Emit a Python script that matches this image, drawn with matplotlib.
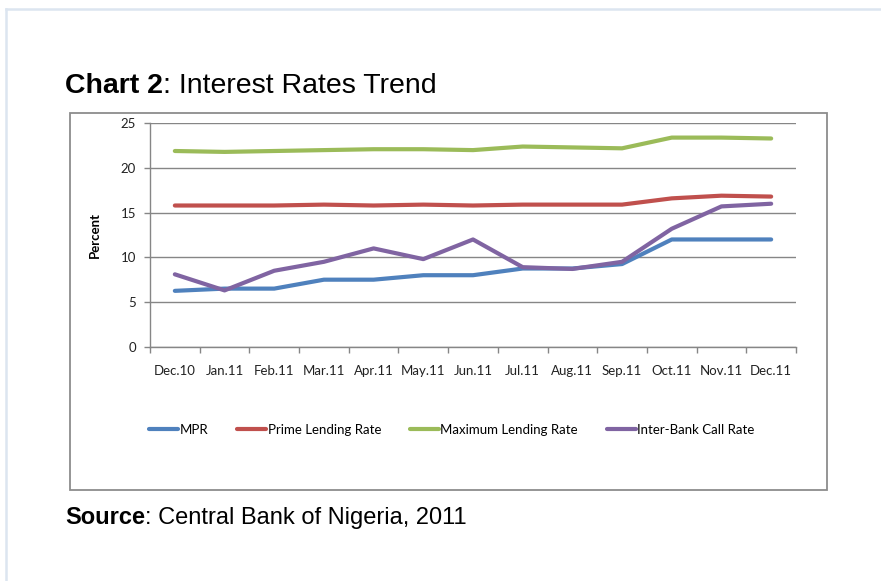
import numpy as np
import matplotlib
matplotlib.use('Agg')
import matplotlib.pyplot as plt
from matplotlib.patches import Rectangle
from matplotlib.lines import Line2D

plt.rcParams['font.family'] = ['Lato', 'DejaVu Sans']

months = ['Dec.10', 'Jan.11', 'Feb.11', 'Mar.11', 'Apr.11', 'May.11', 'Jun.11',
          'Jul.11', 'Aug.11', 'Sep.11', 'Oct.11', 'Nov.11', 'Dec.11']
mpr = [6.25, 6.5, 6.5, 7.5, 7.5, 8.0, 8.0, 8.75, 8.75, 9.25, 12.0, 12.0, 12.0]
prime = [15.8, 15.8, 15.8, 15.9, 15.8, 15.9, 15.8, 15.9, 15.9, 15.9, 16.6, 16.9, 16.8]
maximum = [21.9, 21.8, 21.9, 22.0, 22.1, 22.1, 22.0, 22.4, 22.3, 22.2, 23.4, 23.4, 23.3]
interbank = [8.1, 6.3, 8.5, 9.5, 11.0, 9.8, 12.0, 8.9, 8.7, 9.5, 13.2, 15.7, 16.0]

W, H = 881, 581
fig = plt.figure(figsize=(W / 100, H / 100), dpi=100)

# page border (light blue-grey)
fig.add_artist(Line2D([6 / W, 1], [1 - 9 / H, 1 - 9 / H], color='#dce5f0', lw=1.8))
fig.add_artist(Line2D([6 / W, 6 / W], [0, 1 - 9 / H], color='#dce5f0', lw=1.8))

# chart frame
fig.add_artist(Rectangle((70 / W, 1 - 490 / H), 757 / W, 377 / H, fill=False,
                         edgecolor='#8c8c8c', lw=1.3))

ax = fig.add_axes([150 / W, 1 - 346.7 / H, 646 / W, 223.4 / H])
x = np.arange(len(months))
ax.plot(x, mpr, color='#4f81bd', lw=3, label='MPR', solid_capstyle='round')
ax.plot(x, prime, color='#c0504d', lw=3, label='Prime Lending Rate', solid_capstyle='round')
ax.plot(x, maximum, color='#9bbb59', lw=3, label='Maximum Lending Rate', solid_capstyle='round')
ax.plot(x, interbank, color='#8064a2', lw=3, label='Inter-Bank Call Rate', solid_capstyle='round')

ax.set_xlim(-0.5, len(months) - 0.5)
ax.set_ylim(0, 25)
ax.set_yticks([0, 5, 10, 15, 20, 25])
ax.set_xticks(x)
ax.set_xticklabels(months)
ax.set_xticks(np.arange(-0.5, len(months)), minor=True)
ax.tick_params(axis='x', which='major', length=0, pad=13, labelsize=9.5, colors='#222222')
ax.tick_params(axis='x', which='minor', length=4, color='#868686', width=1)
ax.tick_params(axis='y', length=4, color='#868686', width=1, pad=6, labelsize=9.5,
               labelcolor='#222222')
ax.grid(axis='y', color='#868686', lw=1)
ax.set_axisbelow(True)
for s in ['top', 'right']:
    ax.spines[s].set_visible(False)
for s in ['left', 'bottom']:
    ax.spines[s].set_color('#868686')
    ax.spines[s].set_linewidth(1)
ax.set_ylabel('Percent', fontsize=9.5, fontweight='bold', labelpad=14)

fig.legend(loc='center', bbox_to_anchor=(452 / W, 1 - 430 / H), ncol=4, frameon=False,
           fontsize=9.5, handlelength=2.2, handletextpad=0.1, columnspacing=2.2)

# title and source lines
fig.canvas.draw()
r = fig.canvas.get_renderer()
t1 = fig.text(65 / W, 1 - 86 / H, 'Chart 2', fontsize=20.5, fontweight='bold',
              family='Liberation Sans', va='center')
bb = t1.get_window_extent(r)
fig.text(bb.x1 / W, 1 - 86 / H, ': Interest Rates Trend', fontsize=20.5,
         family='Liberation Sans', va='center')
s1 = fig.text(65 / W, 1 - 518 / H, 'Source', fontsize=17, fontweight='bold',
              family='Liberation Sans', va='center')
bb = s1.get_window_extent(r)
fig.text(bb.x1 / W, 1 - 518 / H, ': Central Bank of Nigeria, 2011', fontsize=17,
         family='Liberation Sans', va='center')

fig.savefig('out.png', dpi=100)
